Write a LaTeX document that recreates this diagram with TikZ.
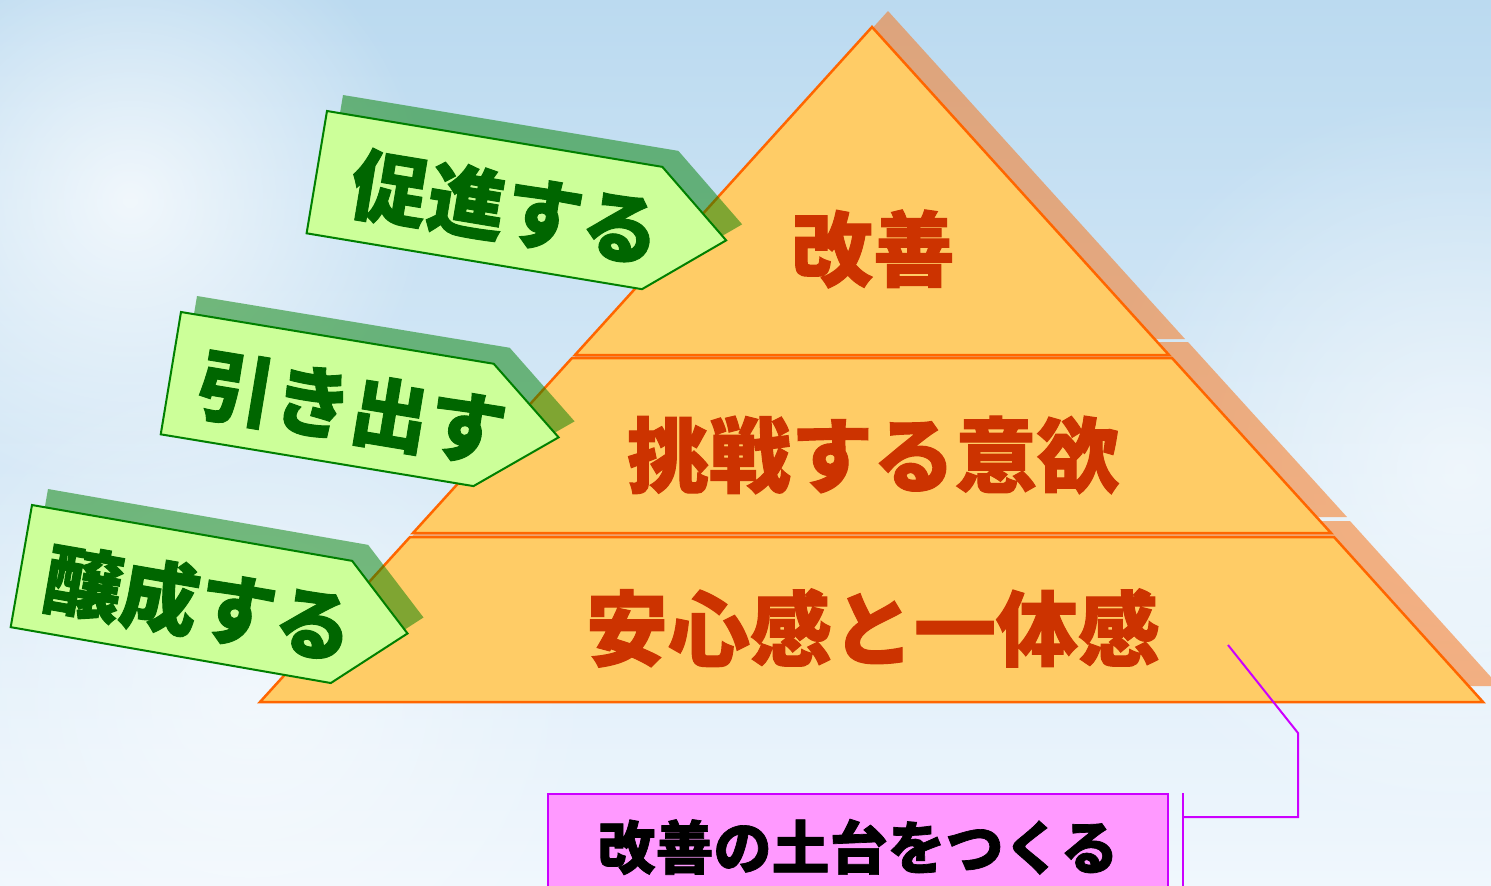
\documentclass[tikz,border=0pt]{standalone}
\usepackage{fontspec}
\newfontfamily\jp{Noto Sans CJK JP}[BoldFeatures={FakeBold=1.2}]
\usetikzlibrary{fadings}
\tikzfading[name=glowfade, inner color=transparent!0, outer color=transparent!100]
\definecolor{bgtop}{HTML}{BBDAF0}
\definecolor{bgbot}{HTML}{F0F7FD}
\definecolor{layerfill}{HTML}{FFCC66}
\definecolor{layerline}{HTML}{FF6600}
\definecolor{pshadow}{HTML}{F8781F}
\definecolor{layertext}{HTML}{CC3300}
\definecolor{arrowfill}{HTML}{CCFF99}
\definecolor{arrowline}{HTML}{008000}
\definecolor{arrowtext}{HTML}{006600}
\definecolor{ashadow}{HTML}{008000}
\definecolor{boxfill}{HTML}{FF99FF}
\definecolor{boxline}{HTML}{CC00FF}
\tikzset{
  layer/.style={fill=layerfill, draw=layerline, line width=2.5pt, line join=miter},
  layershadow/.style={fill=pshadow, fill opacity=0.55},
  layerlabel/.style={text=layertext, inner sep=0pt, font=\jp\bfseries\fontsize{82}{82}\selectfont},
  garrow/.style={fill=arrowfill, draw=arrowline, line width=2pt, line join=miter},
  garrowshadow/.style={fill=ashadow, fill opacity=0.5},
  garrowlabel/.style={text=arrowtext, inner sep=0pt, font=\jp\bfseries\fontsize{78}{78}\selectfont},
  callout/.style={draw=boxline, line width=2pt},
}
\begin{document}
\begin{tikzpicture}[x=1pt,y=-1pt]
\useasboundingbox (0,0) rectangle (1491,886);
% background sky
\fill[top color=bgtop, bottom color=bgbot] (0,0) rectangle (1491,886);
\fill[white, path fading=glowfade, fill opacity=0.75] (130,200) circle (300);
\fill[white, path fading=glowfade, fill opacity=0.6] (1460,470) circle (380);
\fill[white, path fading=glowfade, fill opacity=0.5] (250,700) circle (350);
% pyramid shadows
\begin{scope}[shift={(16,-16)}]
  \fill[layershadow] (872,27) -- (1169,355) -- (575,355) -- cycle;
  \fill[layershadow] (572,358) -- (1172,358) -- (1331,533) -- (413,533) -- cycle;
  \fill[layershadow] (410,537) -- (1334,537) -- (1483,702) -- (260,702) -- cycle;
\end{scope}
% pyramid layers
\draw[layer] (872,27) -- (1169,355) -- (575,355) -- cycle;
\draw[layer] (572,358) -- (1172,358) -- (1331,533) -- (413,533) -- cycle;
\draw[layer] (410,537) -- (1334,537) -- (1483,702) -- (260,702) -- cycle;
\node[layerlabel] (kaizen) at (873,249) {改善};
\node[layerlabel] (iyoku) at (873,455) {挑戦する意欲};
\node[layerlabel] (anshin) at (873,628) {安心感と一体感};
% arrow 1
\begin{scope}[shift={(343,95)}, rotate=-9.46]
  \fill[garrowshadow] (0,0) -- (340,0) -- (415,62) -- (340,124) -- (0,124) -- cycle;
\end{scope}
\begin{scope}[shift={(327,111)}, rotate=-9.46]
  \draw[garrow] (0,0) -- (340,0) -- (415,62) -- (340,124) -- (0,124) -- cycle;
  \node[garrowlabel, rotate=-9.46] (sokushin) at (192,66) {促進する};
\end{scope}
% arrow 2
\begin{scope}[shift={(197,296)}, rotate=-9.4]
  \fill[garrowshadow] (0,0) -- (317,0) -- (393,62) -- (317,124) -- (0,124) -- cycle;
\end{scope}
\begin{scope}[shift={(181,312)}, rotate=-9.4]
  \draw[garrow] (0,0) -- (317,0) -- (393,62) -- (317,124) -- (0,124) -- cycle;
  \node[garrowlabel, rotate=-9.4] (hikidasu) at (184,67) {引き出す};
\end{scope}
% arrow 3
\begin{scope}[shift={(48,489)}, rotate=-9.9]
  \fill[garrowshadow] (0,0) -- (325,0) -- (392,62) -- (325,124) -- (0,124) -- cycle;
\end{scope}
\begin{scope}[shift={(32,505)}, rotate=-9.9]
  \draw[garrow] (0,0) -- (325,0) -- (392,62) -- (325,124) -- (0,124) -- cycle;
  \node[garrowlabel, rotate=-9.9] (jousei) at (181,68) {醸成する};
\end{scope}
% callout box
\node[fill=boxfill, draw=boxline, line width=2pt, minimum width=620pt, minimum height=110pt, inner sep=0pt, anchor=north west] (box) at (547,793) {};
\node[inner sep=0pt, font=\jp\bfseries\fontsize{58}{58}\selectfont] (boxtext) at (858,847) {改善の土台をつくる};
\coordinate (ctip) at (1228,645);
\coordinate (cbend) at (1298,733);
\coordinate (ccorner) at (1298,817);
\coordinate (cbar) at (1183,817);
\coordinate (bartop) at (1183,793);
\coordinate (barbot) at (1183,900);
\draw[callout] (ctip) -- (cbend) -- (ccorner) -- (cbar);
\draw[callout] (bartop) -- (barbot);
\end{tikzpicture}
\end{document}
